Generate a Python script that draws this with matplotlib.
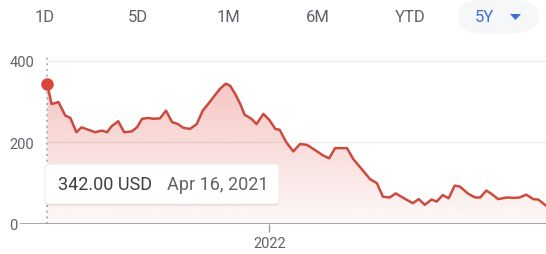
import matplotlib
matplotlib.use("Agg")
import matplotlib.pyplot as plt
import matplotlib.dates as mdates
import numpy as np
import pandas as pd
from matplotlib.patches import FancyBboxPatch, Polygon

plt.rcParams['font.family'] = ['Roboto', 'DejaVu Sans']

# ---- data ----
dates = [
    "2021-04-16", "2021-04-21", "2021-04-29", "2021-05-07", "2021-05-13", "2021-05-20",
    "2021-05-26", "2021-06-03", "2021-06-11", "2021-06-19", "2021-06-25", "2021-06-30",
    "2021-07-08", "2021-07-15", "2021-07-24", "2021-07-30", "2021-08-05", "2021-08-12",
    "2021-08-18", "2021-08-26", "2021-09-02", "2021-09-09", "2021-09-16", "2021-09-22",
    "2021-09-30", "2021-10-08", "2021-10-15", "2021-10-22", "2021-10-29", "2021-11-04",
    "2021-11-11", "2021-11-16", "2021-11-22", "2021-11-28", "2021-12-03", "2021-12-11",
    "2021-12-17", "2021-12-25", "2022-01-01", "2022-01-08", "2022-01-13", "2022-01-21",
    "2022-01-29", "2022-02-06", "2022-02-14", "2022-02-23", "2022-03-05", "2022-03-12",
    "2022-03-19", "2022-04-02", "2022-04-09", "2022-04-19", "2022-04-29", "2022-05-07",
    "2022-05-14", "2022-05-22", "2022-05-29", "2022-06-07", "2022-06-18", "2022-06-25",
    "2022-07-02", "2022-07-10", "2022-07-16", "2022-07-23", "2022-07-30", "2022-08-06",
    "2022-08-12", "2022-08-22", "2022-08-30", "2022-09-05", "2022-09-12", "2022-09-18",
    "2022-09-26", "2022-10-06", "2022-10-14", "2022-10-21", "2022-10-29", "2022-11-06",
    "2022-11-12", "2022-11-21",
]
prices = [
    342, 294, 299, 266, 260, 225,
    237, 231, 225, 229, 225, 239,
    252, 225, 227, 237, 258, 260,
    258, 259, 278, 250, 245, 236,
    233, 245, 278, 296, 315, 331,
    344, 339, 319, 294, 268, 258,
    245, 270, 255, 233, 231, 200,
    178, 196, 194, 182, 168, 161,
    186, 186, 160, 135, 110, 100,
    67, 65, 75, 64, 51, 61,
    47, 60, 55, 71, 63, 94,
    92, 74, 65, 65, 82, 74,
    61, 65, 64, 65, 72, 61,
    60, 45,
]
y_ticks = [0, 200, 400]
x_tick_dates = ["2022-01-01"]
x_tick_labels = ["2022"]
tabs = ["1D", "5D", "1M", "6M", "YTD", "5Y"]
currency = "USD"

d = pd.to_datetime(dates)
p = np.array(prices, dtype=float)

W, H = 546, 255
fig = plt.figure(figsize=(W / 100, H / 100), dpi=100)
fig.patch.set_facecolor("white")

ax = fig.add_axes([20 / W, 30 / H, 1 - 20 / W, 175 / H])
ax.set_facecolor("none")
x0 = d[0] - pd.Timedelta(days=32)
x1 = pd.Timestamp("2022-11-21")
ax.set_xlim(x0, x1)
ax.set_ylim(0, 429)

for s in ax.spines.values():
    s.set_visible(False)

# grid lines
ax.hlines([v for v in y_ticks if v > 0], d[0], x1, color="#ececec", lw=1, zorder=0)
# baseline
ax.axhline(0, color="#9aa0a6", lw=1.3, zorder=3)

# gradient fill under line
xn = mdates.date2num(d)
poly = ax.fill_between(d, p, 0, color="none", lw=0)
grad = np.linspace(1, 0, 256).reshape(-1, 1)
rgba = np.zeros((256, 1, 4))
rgba[..., 0] = 0xe0 / 255
rgba[..., 1] = 0x5a / 255
rgba[..., 2] = 0x50 / 255
rgba[..., 3] = 0.04 + 0.30 * grad[:, :]
im = ax.imshow(rgba, aspect="auto", extent=[xn[0], xn[-1], 0, p.max()],
               origin="upper", zorder=1)
im.set_clip_path(poly.get_paths()[0], transform=ax.transData)

# line
ax.plot(d, p, color="#cc4a3e", lw=1.8, zorder=4, solid_joinstyle="round")

# vertical dotted marker line and point
ax.plot([d[0], d[0]], [0, 410], color="#9fa8c4", lw=1.2, ls=(0, (1.2, 2.2)), zorder=2)
ax.plot([d[0]], [p[0]], "o", color="#d9473b", ms=8, zorder=5)

# ticks
ax.set_yticks(y_ticks)
ax.set_yticklabels([str(v) for v in y_ticks], ha="left", color="#5f6368", fontsize=10.5)
ax.tick_params(axis="y", length=0, pad=7.5)
ax.set_xticks(pd.to_datetime(x_tick_dates))
ax.set_xticklabels(x_tick_labels, color="#5f6368", fontsize=10.5)
ax.tick_params(axis="x", length=6, width=1, color="#9aa0a6", pad=3)

# tabs
tab_x = [45, 138, 228, 318, 410, 484]
pill = FancyBboxPatch((458 / W, 1 - 35 / H), 80 / W, 35 / H,
                      boxstyle="round,pad=0,rounding_size=0.06",
                      transform=fig.transFigure, facecolor="#f6f7f9",
                      edgecolor="none", zorder=0)
fig.patches.append(pill)
for t, tx in zip(tabs, tab_x):
    col = "#3b6fd6" if t == "5Y" else "#5f6368"
    fig.text(tx / W, 1 - 18 / H, t, ha="center", va="center", fontsize=12, color=col)
tri = Polygon([[510 / W, 1 - 15 / H], [521 / W, 1 - 15 / H], [515.5 / W, 1 - 21 / H]],
              closed=True, transform=fig.transFigure, facecolor="#3b6fd6",
              edgecolor="none")
fig.patches.append(tri)

# tooltip
shadow = FancyBboxPatch((45 / W, 1 - 207 / H), 234 / W, 41 / H,
                        boxstyle="round,pad=0,rounding_size=0.01",
                        transform=fig.transFigure, facecolor="#000000", alpha=0.08,
                        edgecolor="none", zorder=6)
box = FancyBboxPatch((45 / W, 1 - 205 / H), 234 / W, 40 / H,
                     boxstyle="round,pad=0,rounding_size=0.01",
                     transform=fig.transFigure, facecolor="white",
                     edgecolor="#e8e8e8", lw=0.6, zorder=7)
fig.patches.append(shadow)
fig.patches.append(box)
fig.text(58 / W, 1 - 185 / H, f"{p[0]:.2f} {currency}", ha="left", va="center",
         fontsize=13, color="#3c4043", zorder=8)
fig.text(167 / W, 1 - 185 / H, d[0].strftime("%b %-d, %Y"), ha="left", va="center",
         fontsize=13, color="#5f6368", zorder=8)

fig.savefig("out.png", dpi=100)
